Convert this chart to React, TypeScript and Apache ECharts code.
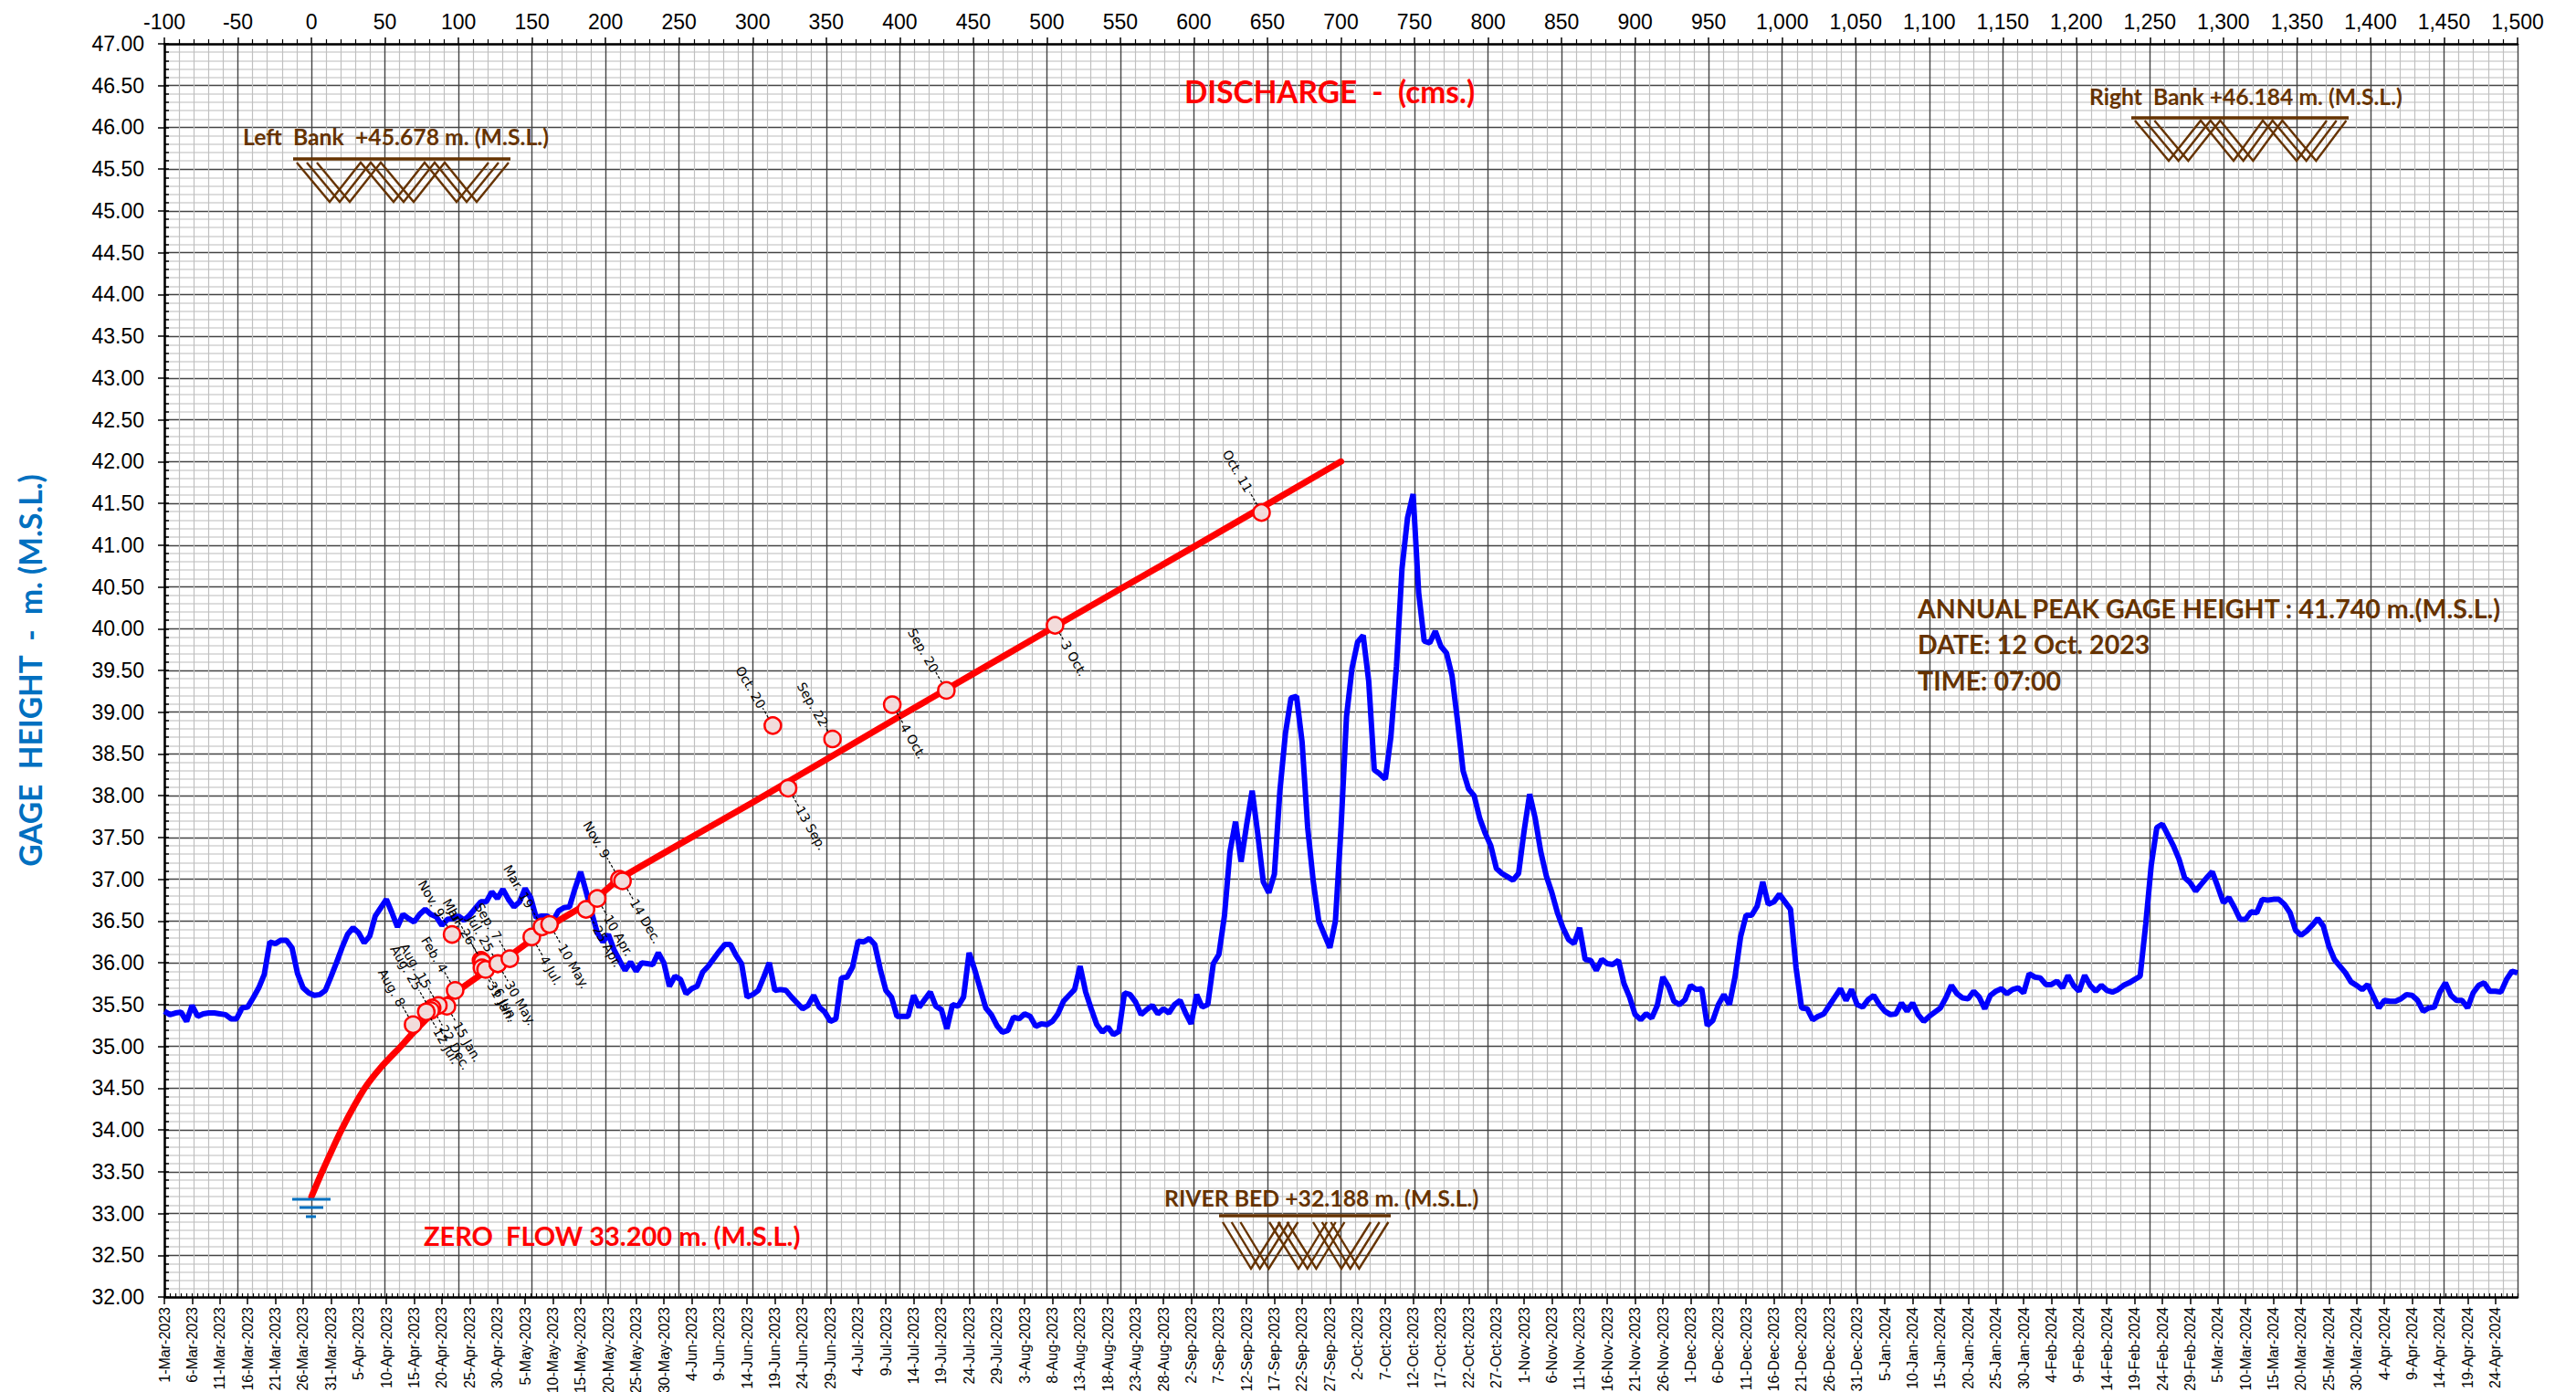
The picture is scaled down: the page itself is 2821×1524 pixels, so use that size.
import React, { useEffect, useRef } from "react";
import * as echarts from "echarts";

// ---------- daily gage height (m. M.S.L.), one value per day from 1-Mar-2023 ----------
const gageHeights = [
  35.42,35.38,35.40,35.41,35.30,35.49,35.36,35.39,35.40,35.40,
  35.39,35.38,35.33,35.33,35.46,35.47,35.58,35.70,35.86,36.25,
  36.23,36.27,36.27,36.18,35.87,35.70,35.64,35.61,35.62,35.67,
  35.83,36.00,36.18,36.34,36.42,36.36,36.24,36.32,36.56,36.66,
  36.76,36.60,36.43,36.58,36.53,36.49,36.58,36.64,36.58,36.55,
  36.45,36.52,36.53,36.56,36.51,36.57,36.65,36.73,36.73,36.85,
  36.77,36.88,36.76,36.67,36.73,36.89,36.78,36.54,36.56,36.56,
  36.50,36.62,36.66,36.67,36.89,37.09,36.85,36.60,36.36,36.25,
  36.34,36.16,36.03,35.91,36.01,35.90,36.00,35.99,35.98,36.12,
  36.00,35.72,35.84,35.80,35.63,35.69,35.72,35.89,35.96,36.05,
  36.14,36.22,36.22,36.09,35.99,35.59,35.62,35.67,35.83,36.00,
  35.67,35.68,35.67,35.59,35.52,35.45,35.49,35.61,35.47,35.41,
  35.30,35.33,35.82,35.83,35.95,36.26,36.25,36.29,36.22,35.92,
  35.67,35.59,35.36,35.36,35.36,35.61,35.47,35.56,35.65,35.48,
  35.44,35.21,35.50,35.48,35.59,36.12,35.92,35.69,35.46,35.38,
  35.25,35.17,35.19,35.35,35.33,35.39,35.36,35.24,35.27,35.26,
  35.30,35.39,35.54,35.61,35.68,35.96,35.65,35.45,35.26,35.17,
  35.23,35.14,35.18,35.64,35.62,35.53,35.38,35.44,35.49,35.39,
  35.45,35.40,35.50,35.55,35.40,35.27,35.62,35.47,35.50,35.99,
  36.10,36.56,37.33,37.69,37.21,37.65,38.06,37.55,36.97,36.84,
  37.06,38.06,38.75,39.17,39.19,38.64,37.62,36.98,36.50,36.34,
  36.18,36.50,37.60,38.95,39.53,39.84,39.92,39.37,38.31,38.26,
  38.20,38.71,39.55,40.72,41.33,41.61,40.43,39.85,39.83,39.97,
  39.79,39.71,39.44,38.90,38.30,38.08,38.00,37.73,37.55,37.40,
  37.13,37.07,37.03,36.99,37.07,37.58,38.02,37.73,37.33,37.04,
  36.84,36.60,36.42,36.28,36.23,36.42,36.04,36.03,35.91,36.04,
  35.99,35.98,36.03,35.75,35.59,35.38,35.32,35.39,35.34,35.49,
  35.83,35.72,35.54,35.50,35.56,35.73,35.68,35.69,35.25,35.31,
  35.50,35.62,35.50,35.83,36.31,36.57,36.57,36.68,36.97,36.70,
  36.73,36.82,36.73,36.64,35.94,35.46,35.45,35.32,35.36,35.39,
  35.49,35.59,35.69,35.55,35.68,35.50,35.47,35.56,35.61,35.50,
  35.42,35.38,35.39,35.52,35.42,35.52,35.38,35.30,35.36,35.41,
  35.46,35.58,35.73,35.63,35.58,35.57,35.66,35.59,35.45,35.61,
  35.66,35.69,35.63,35.68,35.70,35.64,35.87,35.83,35.82,35.74,
  35.74,35.78,35.70,35.85,35.73,35.66,35.85,35.73,35.66,35.73,
  35.67,35.65,35.68,35.73,35.76,35.80,35.84,36.46,37.17,37.62,
  37.66,37.53,37.40,37.24,37.02,36.96,36.86,36.94,37.02,37.09,
  36.91,36.72,36.78,36.66,36.52,36.52,36.61,36.60,36.76,36.75,
  36.76,36.76,36.70,36.60,36.39,36.33,36.38,36.45,36.53,36.44,
  36.20,36.04,35.96,35.88,35.77,35.73,35.68,35.74,35.60,35.46,
  35.55,35.54,35.54,35.57,35.62,35.61,35.55,35.42,35.46,35.47,
  35.65,35.76,35.61,35.55,35.55,35.46,35.64,35.73,35.76,35.66,
  35.66,35.65,35.80,35.90,35.88,
];

// ---------- rating curve ----------
const ratingDischarge = [0, 7.3, 20.4, 35.9, 47.8, 60.8, 69, 83, 98, 116, 134.5, 150, 162, 194, 209, 300, 400, 500, 600, 700];
const ratingGage = [33.2, 33.5, 34.0, 34.49, 34.76, 35.0, 35.16, 35.41, 35.64, 35.87, 36.08, 36.28, 36.44, 36.78, 37.0, 37.92, 38.95, 39.97, 40.98, 42.0];

// ---------- discharge measurements ----------
const measuredDischarge = [313.7, 354.3, 394.9, 431.7, 505.6, 324.1, 646, 95.6, 115.3, 116.2, 115.9, 118.4, 126.7, 126.7, 134.9, 97.7, 92.1, 86.3, 82.1, 81.1, 78, 69.1, 149.8, 156.7, 161.9, 186.7, 194.3, 209.4, 211.5];
const measuredGage = [38.84, 38.68, 39.09, 39.26, 40.04, 38.09, 41.39, 36.34, 36.03, 36.01, 35.94, 35.92, 35.99, 35.99, 36.05, 35.67, 35.48, 35.49, 35.46, 35.43, 35.43, 35.26, 36.31, 36.43, 36.46, 36.64, 36.77, 37.0, 36.98];
const measuredLabels = ["Oct. 20", "Sep. 22", "4 Oct.", "Sep. 20", "3 Oct.", "13 Sep.", "Oct. 11", "Nov. 9", "Mar", "Jul. 26", "31 Jan.", "6 Jun.", "Jul. 25", "30 May.", "Sep. 7", "Feb. 4", "15 Jan.", "Aug. 15", "22 Dec.", "Aug. 25", "12 Jul.", "Aug. 8", "4 Jul.", "Mar. 19", "10 May.", "25 Apr.", "10 Apr.", "Nov. 9", "14 Dec."];
// label placement: -1 = up-left of the marker, 1 = down-right
const labelSides = [-1, -1, 1, -1, 1, 1, -1, -1, -1, -1, 1, 1, -1, 1, -1, -1, 1, -1, 1, -1, 1, -1, 1, -1, 1, 1, 1, -1, 1];
const leaderLengths = [13, 7, 15, 14, 11, 14, 17, 13, 40, 13, 9, 15, 6, 13, 15, 14, 11, 13, 13, 17, 13, 14, 15, 15, 16, 12, 12, 18, 14];

// ---------- axis ticks ----------
const Q_MIN = -100, Q_MAX = 1500, Q_STEP = 50;
const H_MIN = 32, H_MAX = 47, H_STEP = 0.5;
const START = Date.UTC(2023, 2, 1);
const MONTHS = ["Jan","Feb","Mar","Apr","May","Jun","Jul","Aug","Sep","Oct","Nov","Dec"];
const dateCategories = gageHeights.map((_, i) => {
  const d = new Date(START + i * 86400000);
  return `${d.getUTCDate()}-${MONTHS[d.getUTCMonth()]}-${d.getUTCFullYear()}`;
});

// ---------- style ----------
const BROWN = "#663300";
const ANNOT = '"Lato", "Open Sans", sans-serif';
const LABEL_ANGLE = (60 * Math.PI) / 180;

// A three-fold zigzag hatching below a bank line.
function hatch(xs: number[][], yTop: number, yBottom: number) {
  return xs.map((run) => ({
    type: "polyline",
    silent: true,
    z: 6,
    shape: { points: run.map((x, i) => [x, i % 2 === 0 ? yTop : yBottom]) },
    style: { fill: "none", stroke: BROWN, lineWidth: 2.4 },
  }));
}
function offsetRuns(base: number[], step: number) {
  return [0, 1, 2].map((k) => base.map((x) => x + k * step));
}
function bar(x1: number, x2: number, y: number, color: string, w: number) {
  return {
    type: "line",
    silent: true,
    z: 6,
    shape: { x1, y1: y, x2, y2: y },
    style: { stroke: color, lineWidth: w },
  };
}
function note(text: string, x: number, y: number, size: number, fill: string, align = "left") {
  return {
    type: "text",
    silent: true,
    z: 7,
    x,
    y,
    style: { text, fill, align, verticalAlign: "middle", font: `bold ${size}px ${ANNOT}` },
  };
}

const minorSplitV = { show: true, lineStyle: { color: "#c0c0c0", width: 1.2 } };
const minorSplitH = { show: true, lineStyle: { color: "#d2d2d2", width: 1.5 } };

export default function App() {
  const ref = useRef<HTMLDivElement>(null);
  useEffect(() => {
    const chart = echarts.init(ref.current!, undefined, { renderer: "svg" });
    chart.setOption({
      animation: false,
      backgroundColor: "#fff",
      grid: { left: 180, top: 48, width: 2577, height: 1372, containLabel: false, outerBoundsMode: "none" },
      xAxis: [
        {
          type: "category",
          position: "bottom",
          data: dateCategories,
          boundaryGap: false,
          axisLine: { onZero: false, lineStyle: { color: "#000", width: 2.5 } },
          axisTick: { show: true, interval: 4, length: 8, lineStyle: { color: "#000", width: 1.5 } },
          axisLabel: {
            interval: 4,
            rotate: 90,
            margin: 11,
            color: "#000",
            fontFamily: '"Liberation Sans", Arial, sans-serif',
            fontSize: 16,
          },
          splitLine: { show: false },
        },
        {
          type: "category",
          position: "bottom",
          data: dateCategories,
          boundaryGap: false,
          axisLine: { show: false, onZero: false },
          axisTick: { show: true, inside: true, interval: 0, length: 4, lineStyle: { color: "#000", width: 1.2 } },
          axisLabel: { show: false },
          splitLine: { show: false },
        },
        {
          type: "value",
          position: "top",
          min: Q_MIN,
          max: Q_MAX,
          interval: Q_STEP,
          axisLine: { show: true, onZero: false, lineStyle: { color: "#000", width: 2.5 } },
          axisTick: { show: true, length: 7, lineStyle: { color: "#000", width: 1.5 } },
          minorTick: { show: true, splitNumber: 5, length: 5, lineStyle: { color: "#000", width: 1.2 } },
          axisLabel: {
            margin: 13,
            color: "#000",
            fontFamily: '"Liberation Sans", Arial, sans-serif',
            fontSize: 23,
            formatter: (v: number) => v.toLocaleString("en-US"),
          },
          splitLine: { show: true, lineStyle: { color: "#444", width: 1.4 } },
          minorSplitLine: minorSplitV,
        },
      ],
      yAxis: [
        {
          type: "value",
          position: "left",
          min: H_MIN,
          max: H_MAX,
          interval: H_STEP,
          name: "GAGE  HEIGHT  -  m. (M.S.L.)",
          nameLocation: "middle",
          nameGap: 130,
          nameTextStyle: { color: "#0070C0", fontFamily: ANNOT, fontWeight: "bold", fontSize: 33.5 },
          axisLine: { show: true, onZero: false, lineStyle: { color: "#000", width: 2.5 } },
          axisTick: { show: true, length: 7, lineStyle: { color: "#000", width: 1.5 } },
          axisLabel: {
            margin: 22,
            color: "#000",
            fontFamily: '"Liberation Sans", Arial, sans-serif',
            fontSize: 23,
            formatter: (v: number) => v.toFixed(2),
          },
          splitLine: { show: true, lineStyle: { color: "#444", width: 1.4 } },
          minorTick: { show: false, splitNumber: 5 },
          minorSplitLine: minorSplitH,
        },
        {
          type: "value",
          position: "left",
          min: H_MIN,
          max: H_MAX,
          interval: H_STEP,
          axisLine: { show: false, onZero: false },
          axisTick: { show: true, inside: true, length: 5, lineStyle: { color: "#000", width: 1.5 } },
          minorTick: { show: true, splitNumber: 5, length: 5, lineStyle: { color: "#000", width: 1.5 } },
          axisLabel: { show: false },
          splitLine: { show: false },
        },
      ],
      series: [
        {
          type: "line",
          name: "Gage height",
          xAxisIndex: 0,
          yAxisIndex: 0,
          data: gageHeights,
          showSymbol: false,
          smooth: false,
          z: 3,
          lineStyle: { color: "#0000FF", width: 6 },
        },
        {
          type: "line",
          name: "Rating curve",
          xAxisIndex: 2,
          yAxisIndex: 0,
          data: ratingDischarge.map((q, i) => [q, ratingGage[i]]),
          showSymbol: false,
          smooth: 0.2,
          z: 4,
          lineStyle: { color: "#FF0000", width: 7, cap: "round" },
        },
        {
          type: "custom",
          name: "Measurements",
          coordinateSystem: "cartesian2d",
          xAxisIndex: 2,
          yAxisIndex: 0,
          z: 5,
          clip: false,
          encode: { x: 0, y: 1 },
          data: measuredDischarge.map((q, i) => [q, measuredGage[i]]),
          renderItem: (params: any, api: any) => {
            const i = params.dataIndex;
            const [cx, cy] = api.coord([api.value(0), api.value(1)]);
            const side = labelSides[i];
            const r = 10;
            const len = leaderLengths[i] - 1;
            return {
              type: "group",
              children: [
                {
                  type: "circle",
                  shape: { cx, cy, r: 9 },
                  style: { fill: "#F2DCDB", stroke: "#FF0000", lineWidth: 2.5 },
                },
                {
                  type: "group",
                  x: cx,
                  y: cy,
                  rotation: -LABEL_ANGLE,
                  children: [
                    {
                      type: "line",
                      shape: { x1: side * r, y1: 0, x2: side * (r + len), y2: 0 },
                      style: { stroke: "#000", lineWidth: 1.2, lineDash: [3, 2] },
                    },
                    {
                      type: "text",
                      style: {
                        text: measuredLabels[i],
                        x: side * (r + len + 1),
                        y: 0,
                        align: side > 0 ? "left" : "right",
                        verticalAlign: "middle",
                        font: '14px "DejaVu Sans", sans-serif',
                        fill: "#000",
                      },
                    },
                  ],
                },
              ],
            };
          },
        },
      ],
      graphic: [
        note("DISCHARGE  -  (cms.)", 1456, 100, 33.4, "#FF0000", "center"),
        note("Left  Bank  +45.678 m. (M.S.L.)", 266, 149, 24.8, BROWN),
        bar(321, 559, 174, BROWN, 3.5),
        ...hatch(offsetRuns([325, 361, 395, 431, 465, 500, 535], 11), 178, 221),
        note("Right  Bank +46.184 m. (M.S.L.)", 2288, 105, 24.7, BROWN),
        bar(2334, 2572, 129, BROWN, 3.5),
        ...hatch(offsetRuns([2338, 2375, 2410, 2446, 2478, 2515, 2548], 10.7), 132, 176),
        note("RIVER BED +32.188 m. (M.S.L.)", 1275, 1311, 24.8, BROWN),
        bar(1335, 1523, 1331, BROWN, 3.5),
        ...hatch(offsetRuns([1339, 1370, 1402], 9.7), 1338, 1389),
        ...hatch(offsetRuns([1390, 1422, 1453], 9.7), 1338, 1389),
        ...hatch(offsetRuns([1438, 1469, 1501], 9.7), 1338, 1389),
        note("ZERO  FLOW 33.200 m. (M.S.L.)", 464, 1352, 29, "#FF0000"),
        bar(320, 362, 1313, "#0070C0", 3),
        bar(328, 354, 1322, "#0070C0", 3),
        bar(335, 346, 1332, "#0070C0", 3),
        note("ANNUAL PEAK GAGE HEIGHT : 41.740 m.(M.S.L.)", 2100, 666, 28.6, BROWN),
        note("DATE: 12 Oct. 2023", 2100, 705, 28.6, BROWN),
        note("TIME: 07:00", 2100, 745, 28.6, BROWN),
      ],
    });
    return () => chart.dispose();
  }, []);
  return (
    <div
      ref={ref}
      style={{ position: "fixed", left: 0, top: 0, width: 2821, height: 1524, background: "#fff" }}
    />
  );
}
